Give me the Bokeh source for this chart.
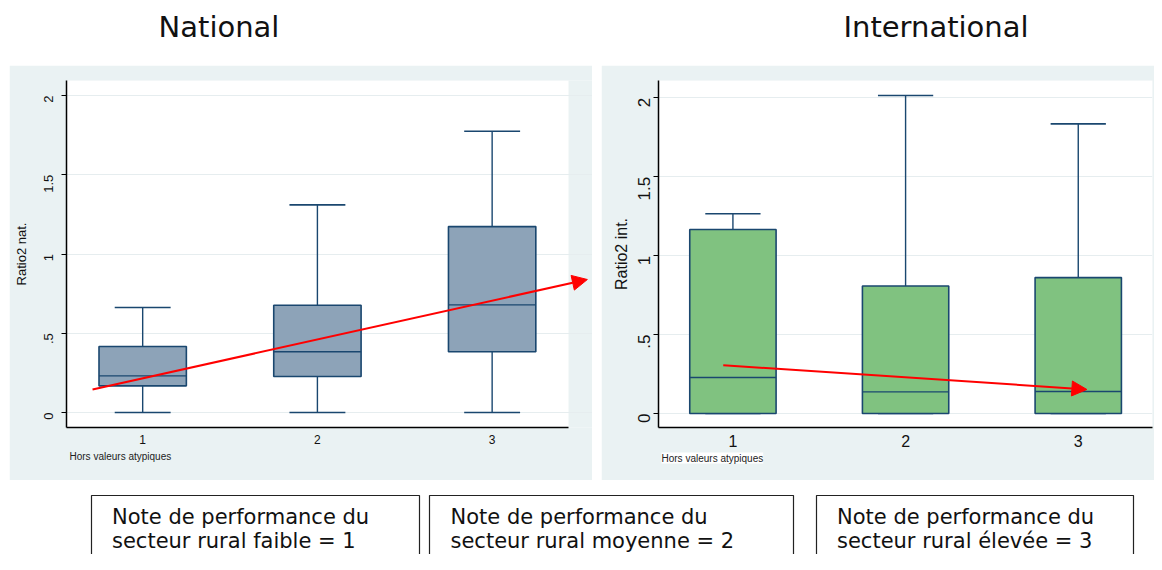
import math
from bokeh.plotting import figure
from bokeh.layouts import column, row
from bokeh.models import (Range1d, FixedTicker, Arrow, NormalHead, Title, BoxAnnotation,
                          ColumnDataSource, Spacer)
from bokeh.transform import dodge
from bokeh.embed import file_html
from bokeh.resources import INLINE
from bokeh.core.properties import value

# ---------------- data ----------------
categories = [1, 2, 3]
tick_values = [0, 0.5, 1, 1.5, 2]
tick_labels = ["0", ".5", "1", "1.5", "2"]

nat_lower = [0.0, 0.0, 0.0]
nat_q1 = [0.168, 0.227, 0.383]
nat_median = [0.231, 0.383, 0.679]
nat_q3 = [0.416, 0.677, 1.173]
nat_upper = [0.662, 1.310, 1.775]

int_lower = [0.0, 0.0, 0.0]
int_q1 = [0.0, 0.0, 0.0]
int_median = [0.228, 0.137, 0.139]
int_q3 = [1.166, 0.808, 0.861]
int_upper = [1.266, 2.015, 1.835]

nat_trend_x = [0.713, 3.545]
nat_trend_y = [0.145, 0.839]
int_trend_x = [0.944, 3.05]
int_trend_y = [0.306, 0.152]

panel_titles = ["National", "International"]
note_line1 = ["Note de performance du", "Note de performance du", "Note de performance du"]
note_line2 = ["secteur rural faible = 1", "secteur rural moyenne = 2", "secteur rural élevée = 3"]
outlier_note = "Hors valeurs atypiques"

# ---------------- style ----------------
NAVY = "#1A476F"
BG = "#EAF2F3"
GRID = "#E6EDEF"
FONT = "Liberation Sans"
FRAME_H = 347
BORDER_TOP = 15
BORDER_BOTTOM = 53


def box_panel(lower, q1, med, q3, upper, fill, ylabel, trend_x, trend_y,
              border_left, frame_w, border_right, x_rng, plot_x_end, y_rng,
              tick_size, xtick_size, label_size, tick_standoff, label_standoff,
              note_bg, note_standoff):
    p = figure(frame_width=frame_w, frame_height=FRAME_H,
               min_border_left=border_left, min_border_right=border_right,
               min_border_top=BORDER_TOP, min_border_bottom=BORDER_BOTTOM,
               x_range=Range1d(*x_rng), y_range=Range1d(*y_rng),
               output_backend="svg", toolbar_location=None,
               background_fill_color=BG, border_fill_color=BG)
    p.outline_line_color = None
    # white plotting region (the frame may be a little wider, to hold the arrow head)
    p.add_layout(BoxAnnotation(left=x_rng[0], right=plot_x_end, bottom=y_rng[0], top=y_rng[1],
                               fill_color="white", fill_alpha=1.0, line_color=None, level="image"))

    src = ColumnDataSource(dict(x=categories, lower=lower, q1=q1, med=med, q3=q3, upper=upper))

    # whiskers
    p.segment(x0="x", y0="q3", x1="x", y1="upper", source=src, line_color=NAVY, line_width=1.4)
    p.segment(x0="x", y0="lower", x1="x", y1="q1", source=src, line_color=NAVY, line_width=1.4)
    p.segment(x0=dodge("x", -0.16), x1=dodge("x", 0.16), y0="upper", y1="upper",
              source=src, line_color=NAVY, line_width=1.6)
    p.segment(x0=dodge("x", -0.16), x1=dodge("x", 0.16), y0="lower", y1="lower",
              source=src, line_color=NAVY, line_width=1.4)
    # boxes
    p.vbar(x="x", width=0.5, bottom="q1", top="q3", source=src,
           fill_color=fill, line_color=NAVY, line_width=1.6)
    # medians
    p.segment(x0=dodge("x", -0.25), x1=dodge("x", 0.25), y0="med", y1="med",
              source=src, line_color=NAVY, line_width=1.3)

    # trend arrow
    p.add_layout(Arrow(end=NormalHead(size=15, fill_color="red", line_color="red", line_width=1),
                       x_start=trend_x[0], y_start=trend_y[0],
                       x_end=trend_x[1], y_end=trend_y[1],
                       line_color="red", line_width=2))

    # axes
    p.yaxis.ticker = FixedTicker(ticks=tick_values)
    p.yaxis.major_label_overrides = {v: l for v, l in zip(tick_values, tick_labels)}
    p.yaxis.major_label_orientation = math.pi / 2
    p.yaxis.major_label_text_font_size = tick_size
    p.yaxis.major_label_text_font = FONT
    p.yaxis.major_label_text_color = "#111111"
    p.yaxis.major_tick_out = 5
    p.yaxis.major_tick_in = 0
    p.yaxis.minor_tick_line_color = None
    p.yaxis.major_label_standoff = tick_standoff
    p.yaxis.axis_label = ylabel
    p.yaxis.axis_label_text_font = FONT
    p.yaxis.axis_label_text_font_style = "normal"
    p.yaxis.axis_label_text_font_size = label_size
    p.yaxis.axis_label_text_color = "#111111"
    p.yaxis.axis_label_standoff = label_standoff
    p.yaxis.axis_line_width = 1.5
    p.yaxis.major_tick_line_width = 1.2

    p.xaxis.ticker = FixedTicker(ticks=categories)
    p.xaxis.bounds = (x_rng[0], plot_x_end)
    p.xaxis.major_tick_line_color = None
    p.xaxis.major_tick_out = 0
    p.xaxis.major_tick_in = 0
    p.xaxis.minor_tick_line_color = None
    p.xaxis.minor_tick_out = 0
    p.xaxis.major_label_text_font_size = xtick_size
    p.xaxis.major_label_text_font = FONT
    p.xaxis.major_label_text_color = "#111111"
    p.xaxis.major_label_standoff = 7
    p.xaxis.axis_line_width = 1.5

    p.xgrid.visible = False
    p.ygrid.grid_line_color = GRID
    p.ygrid.grid_line_width = 1.2

    p.add_layout(Title(text=outlier_note, align="left", offset=3, standoff=note_standoff,
                       text_font=FONT, text_font_size="10px", text_font_style="normal",
                       text_color="#222222", background_fill_color=note_bg), "below")
    return p


# ---- left panel (National); its frame reaches a bit past the plot area so the
# arrow head, which pokes out of the plot region in the original, stays visible
L_X0, L_X1 = 0.564, 3.437
L_PLOT_W = 502
L_FRAME_W = 526
L_XEND = L_X0 + (L_X1 - L_X0) * L_FRAME_W / L_PLOT_W
left = box_panel(nat_lower, nat_q1, nat_median, nat_q3, nat_upper, "#8DA3B8", "Ratio2 nat.",
                 nat_trend_x, nat_trend_y, 57, L_FRAME_W, 0, (L_X0, L_XEND), L_X1, (-0.095, 2.095),
                 "13px", "12px", "13px", 13, 8, None, 5)

# ---- right panel (International)
R_X0, R_X1 = 0.569, 3.43
right = box_panel(int_lower, int_q1, int_median, int_q3, int_upper, "#80C280", "Ratio2 int.",
                  int_trend_x, int_trend_y, 57, 494, 2, (R_X0, R_X1), R_X1, (-0.089, 2.11),
                  "17px", "16px", "16px", 9, 0, "white", 2)

# ---------------- titles ----------------
title_fig = figure(width=1154, height=65, x_range=Range1d(0, 1154), y_range=Range1d(65, 0),
                   x_axis_type=None, y_axis_type=None, output_backend="svg",
                   toolbar_location=None, min_border=0)
title_fig.outline_line_color = None
title_fig.grid.visible = False
title_fig.text(x=[218.5, 935.5], y=[26, 26], text=panel_titles,
               text_font=value("DejaVu Sans"), text_font_size="29px",
               text_align="center", text_baseline="alphabetic", text_color="#111111")

# ---------------- notes ----------------
notes_fig = figure(width=1154, height=74, x_range=Range1d(0, 1154), y_range=Range1d(74, 0),
                   x_axis_type=None, y_axis_type=None, output_backend="svg",
                   toolbar_location=None, min_border=0)
notes_fig.outline_line_color = None
notes_fig.grid.visible = False
notes_fig.quad(left=[91, 429, 816], right=[419, 793, 1133], top=[15, 15, 15], bottom=[110, 110, 110],
               fill_color=None, line_color="#222222", line_width=1.2)
note_text_x = [111.5, 450, 836.5]
notes_fig.text(x=note_text_x, y=[36, 36, 36], text=note_line1,
               text_font=value("DejaVu Sans"), text_font_size="21px",
               text_baseline="alphabetic", text_color="#111111")
notes_fig.text(x=note_text_x, y=[60, 60, 60], text=note_line2,
               text_font=value("DejaVu Sans"), text_font_size="21px",
               text_baseline="alphabetic", text_color="#111111")

layout = column(title_fig,
                row(Spacer(width=9, height=415), left, Spacer(width=9, height=415), right),
                notes_fig)

open("out.html", "w").write(file_html(layout, INLINE))
